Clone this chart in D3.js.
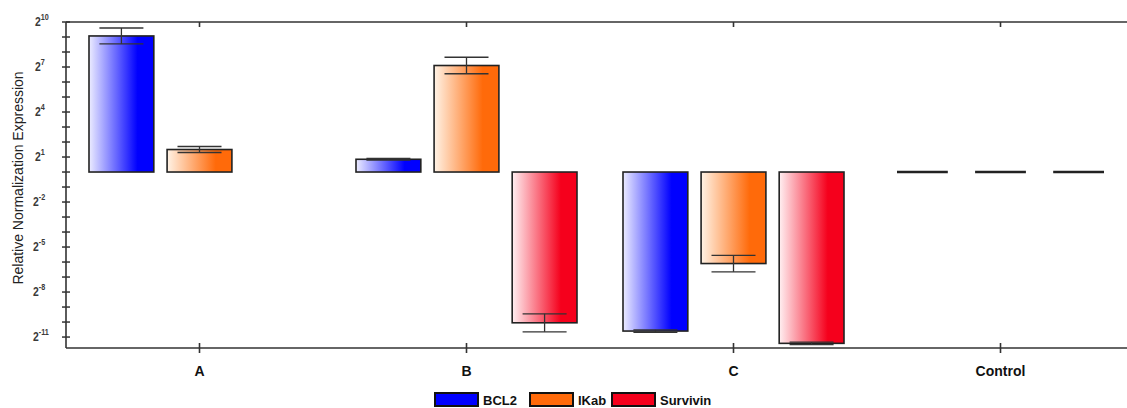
<!DOCTYPE html>
<html>
<head>
<meta charset="utf-8">
<script src="https://cdn.jsdelivr.net/npm/d3@7"></script>
<style>
  body { margin: 0; background: #fff; }
  svg { display: block; font-family: "Liberation Sans", Arial, sans-serif; }
</style>
</head>
<body>
<div id="chart"></div>
<script>
// data: log2 relative expression per sample group
const categories = ["A", "B", "C", "Control"];
const genes = ["BCL2", "IKab", "Survivin"];
const bcl2 = [9.07, 0.85, -10.6, 0];
const bcl2Err = [0.53, 0.05, 0.08, 0];
const ikab = [1.5, 7.1, -6.1, 0];
const ikabErr = [0.2, 0.55, 0.55, 0];
const survivin = [null, -10.05, -11.42, 0];
const survivinErr = [null, 0.6, 0.08, 0];
const yTickExps = [10, 7, 4, 1, -2, -5, -8, -11];

const width = 1127, height = 408;
const colors = { BCL2: "#0000ff", IKab: "#ff6a0a", Survivin: "#f5001c" };
const lightColors = { BCL2: "#ececff", IKab: "#fff3e6", Survivin: "#fff0f2" };

const series = { BCL2: [bcl2, bcl2Err], IKab: [ikab, ikabErr], Survivin: [survivin, survivinErr] };
const rows = [];
categories.forEach((c, i) => {
  genes.forEach(g => {
    const v = series[g][0][i];
    if (v !== null) rows.push({ cat: c, gene: g, value: v, err: series[g][1][i] });
  });
});

const svg = d3.select("#chart").append("svg")
  .attr("width", width)
  .attr("height", height);

const defs = svg.append("defs");
genes.forEach(g => {
  const grad = defs.append("linearGradient")
    .attr("id", "grad-" + g)
    .attr("x1", "0%").attr("x2", "100%").attr("y1", "0%").attr("y2", "0%");
  grad.append("stop").attr("offset", "0%").attr("stop-color", lightColors[g]);
  grad.append("stop").attr("offset", "75%").attr("stop-color", colors[g]);
  grad.append("stop").attr("offset", "100%").attr("stop-color", colors[g]);
});

const x0 = d3.scaleBand().domain(categories).range([66, 1134]);
const bw = x0.bandwidth();
const x1 = d3.scaleBand().domain(genes)
  .range([(bw - 221) / 2, (bw + 221) / 2])
  .paddingInner(0.17);
const y = d3.scaleLinear().domain([-11.73, 10]).range([348, 22]);

// bars
const bars = rows.filter(d => d.value !== 0);
svg.append("g").selectAll("rect")
  .data(bars)
  .join("rect")
  .attr("x", d => x0(d.cat) + x1(d.gene))
  .attr("width", x1.bandwidth())
  .attr("y", d => y(Math.max(0, d.value)))
  .attr("height", d => Math.abs(y(d.value) - y(0)))
  .attr("fill", d => "url(#grad-" + d.gene + ")")
  .attr("stroke", "#222")
  .attr("stroke-width", 1.6);

// zero-valued bars drawn as flat lines
svg.append("g").selectAll("line")
  .data(rows.filter(d => d.value === 0))
  .join("line")
  .attr("x1", d => x0(d.cat) + x1(d.gene) + 7)
  .attr("x2", d => x0(d.cat) + x1(d.gene) + x1.bandwidth() - 7)
  .attr("y1", y(0)).attr("y2", y(0))
  .attr("stroke", "#222")
  .attr("stroke-width", 2.5);

// error bars
const capW = 22;
const eb = svg.append("g").attr("stroke", "#333").attr("stroke-width", 1.3);
bars.forEach(d => {
  const cx = x0(d.cat) + x1(d.gene) + x1.bandwidth() / 2;
  const lo = y(d.value - d.err), hi = y(d.value + d.err);
  eb.append("line").attr("x1", cx).attr("x2", cx).attr("y1", lo).attr("y2", hi);
  eb.append("line").attr("x1", cx - capW).attr("x2", cx + capW).attr("y1", lo).attr("y2", lo);
  eb.append("line").attr("x1", cx - capW).attr("x2", cx + capW).attr("y1", hi).attr("y2", hi);
});

// y axis with a tick per unit
const yAxis = svg.append("g").attr("stroke", "#333");
yAxis.append("line").attr("x1", 66).attr("x2", 66).attr("y1", 22).attr("y2", 348).attr("stroke-width", 1.6);
yAxis.selectAll("line.tick")
  .data(d3.range(-11, 11))
  .join("line")
  .attr("class", "tick")
  .attr("x1", 62).attr("x2", 70)
  .attr("y1", d => y(d)).attr("y2", d => y(d))
  .attr("stroke-width", 1.5);

const yLabels = svg.append("g")
  .style("font-weight", "bold")
  .attr("fill", "#3a3a3a");
yTickExps.forEach(e => {
  const t = yLabels.append("text")
    .attr("transform", `translate(${e < 0 ? 33 : 35},${y(e) + 4}) scale(0.8,1)`);
  t.append("tspan").style("font-size", "13px").text("2");
  t.append("tspan").style("font-size", "9px").attr("dy", -6).text(e);
});

svg.append("text")
  .attr("transform", "translate(23,178) rotate(-90)")
  .attr("text-anchor", "middle")
  .style("font-size", "14px")
  .attr("fill", "#222")
  .text("Relative Normalization Expression");

// top frame and x axis
const xAxis = svg.append("g").attr("stroke", "#333").attr("stroke-width", 1.6);
xAxis.append("line").attr("x1", 66).attr("x2", width).attr("y1", 22).attr("y2", 22);
xAxis.append("line").attr("x1", 66).attr("x2", width).attr("y1", 348).attr("y2", 348);
categories.forEach(c => {
  const cx = x0(c) + bw / 2;
  xAxis.append("line").attr("x1", cx).attr("x2", cx).attr("y1", 22).attr("y2", 27);
  xAxis.append("line").attr("x1", cx).attr("x2", cx).attr("y1", 343).attr("y2", 353);
});

svg.append("g").selectAll("text")
  .data(categories)
  .join("text")
  .attr("x", d => x0(d) + bw / 2)
  .attr("y", 376)
  .attr("text-anchor", "middle")
  .style("font-size", "14px")
  .style("font-weight", "bold")
  .attr("fill", "#111")
  .text(d => d);

// legend
const legendX = [435, 530, 612];
const legend = svg.append("g");
genes.forEach((g, i) => {
  legend.append("rect")
    .attr("x", legendX[i]).attr("y", 393)
    .attr("width", 43).attr("height", 13)
    .attr("fill", colors[g])
    .attr("stroke", "#111").attr("stroke-width", 2);
  legend.append("text")
    .attr("x", legendX[i] + 48).attr("y", 405)
    .style("font-size", "13px")
    .style("font-weight", "bold")
    .attr("fill", "#111")
    .text(g);
});
</script>
</body>
</html>
